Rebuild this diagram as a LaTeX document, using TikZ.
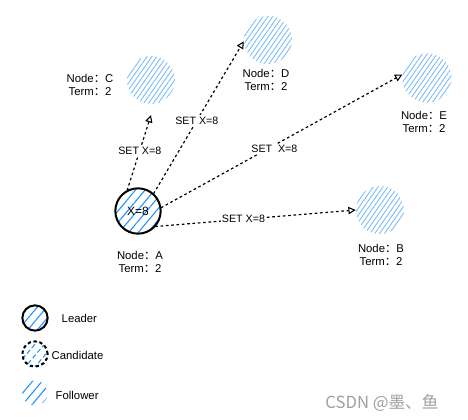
\documentclass[tikz,border=0pt]{standalone}
\usepackage{fontspec}
\setmainfont{Liberation Sans}
\newfontfamily\cjk{Noto Sans CJK SC}
\usetikzlibrary{patterns.meta,arrows.meta}
\definecolor{fblue}{RGB}{120,186,246}
\definecolor{lblue}{RGB}{30,144,255}
\tikzset{
  follower/.style={circle,minimum size=36pt,inner sep=0pt,
    pattern={Lines[angle=55,distance=3pt,line width=0.65pt]},pattern color=fblue},
  leader/.style={circle,minimum size=34pt,inner sep=0pt,draw,line width=1.5pt,
    pattern={Lines[angle=50,distance=5.5pt,line width=0.8pt]},pattern color=lblue,font=\small},
  cand/.style={circle,minimum size=19pt,inner sep=0pt,draw,line width=1.5pt,dash pattern=on 2.5pt off 2pt,
    pattern={Lines[angle=50,distance=5.5pt,line width=0.8pt]},pattern color=lblue},
  leg/.style={circle,minimum size=19pt,inner sep=0pt,
    pattern={Lines[angle=50,distance=5.5pt,line width=0.8pt]},pattern color=lblue},
  lab/.style={align=center,font=\fontsize{8.5}{10}\selectfont},
  txt/.style={font=\fontsize{8.5}{10}\selectfont,anchor=west},
  arr/.style={line width=0.9pt,dash pattern=on 2pt off 2pt,-{Triangle[open,length=5.5pt,width=5.5pt,line width=0.8pt]}},
  msg/.style={fill=white,inner sep=1pt,font=\fontsize{8}{9.5}\selectfont}
}
\begin{document}
\begin{tikzpicture}[x=0.75pt,y=-0.75pt]
\useasboundingbox (0,0) rectangle (468,420);
% nodes
\node[leader] (A) at (138,211) {X=8};
\node[follower] (C) at (151,80) {};
\node[follower,minimum size=36pt] (D) at (268,40) {};
\node[follower,minimum size=37pt] (E) at (427,78) {};
\node[follower] (B) at (380,210) {};
% labels
\node[lab] (LA) at (140,262) {Node{\cjk ：}A\\Term{\cjk ：}2};
\node[lab] (LC) at (90,85) {Node{\cjk ：}C\\Term{\cjk ：}2};
\node[lab] (LD) at (266,80) {Node{\cjk ：}D\\Term{\cjk ：}2};
\node[lab] (LE) at (424,122) {Node{\cjk ：}E\\Term{\cjk ：}2};
\node[lab] (LB) at (381,255) {Node{\cjk ：}B\\Term{\cjk ：}2};
% connectors
\draw[arr] (A.118) -- ([yshift=-8pt]C.south) node[msg,pos=0.53] {SET X=8};
\draw[arr] (A.48) -- (D.183) node[msg,pos=0.48] {SET X=8};
\draw[arr] (A.8) -- (E.172) node[msg,pos=0.47,yshift=-3pt] {SET\ \ X=8};
\draw[arr] (A.-42) -- (B.west) node[msg,pos=0.44] {SET X=8};
% legend
\node[leader,minimum size=19pt] (L1) at (35,318) {};
\node[txt] (T1) at (57,318) {Leader};
\node[cand] (L2) at (35,354) {};
\node[txt] (T2) at (47,355) {Candidate};
\node[leg] (L3) at (35,393) {};
\node[txt] (T3) at (51,395) {Follower};
% watermark
\node[font=\cjk\fontsize{12.5}{14}\selectfont,text=gray!75] (W) at (382,403) {CSDN @墨、鱼};
\end{tikzpicture}
\end{document}
